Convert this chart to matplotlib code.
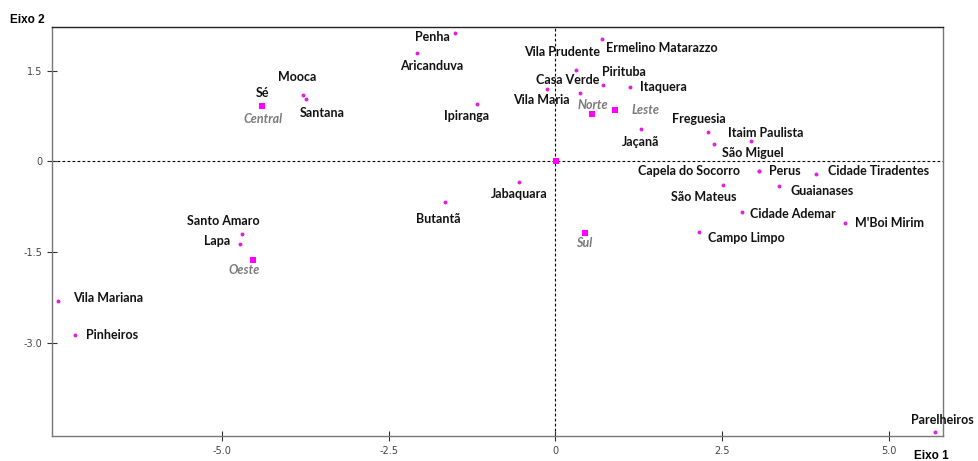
import numpy as np
import matplotlib
matplotlib.use("Agg")
from matplotlib import pyplot as plt

# district scores on the two axes
districts = ["Penha", "Aricanduva", "Ermelino Matarazzo", "Vila Prudente", "Casa Verde",
             "Vila Maria", "Pirituba", "Itaquera", "Ipiranga", "Jaçanã", "Mooca", "Santana",
             "Sé", "Freguesia", "Itaim Paulista", "São Miguel", "Capela do Socorro", "Perus",
             "Cidade Tiradentes", "São Mateus", "Guaianases", "Cidade Ademar", "M'Boi Mirim",
             "Campo Limpo", "Jabaquara", "Butantã", "Santo Amaro", "Lapa", "Vila Mariana",
             "Pinheiros", "Parelheiros"]
eixo1 = [-1.51, -2.07, 0.70, 0.31, 0.37, -0.13, 0.72, 1.12, -1.18, 1.28, -3.78, -3.74,
         -4.39, 2.29, 2.93, 2.38, 3.06, 3.06, 3.91, 2.52, 3.35, 2.80, 4.35, 2.16, -0.55,
         -1.66, -4.70, -4.72, -7.46, -7.20, 5.70]
eixo2 = [2.12, 1.80, 2.02, 1.51, 1.13, 1.20, 1.26, 1.23, 0.95, 0.54, 1.09, 1.04,
         0.91, 0.48, 0.34, 0.29, -0.16, -0.16, -0.21, -0.39, -0.41, -0.84, -1.02, -1.17,
         -0.34, -0.67, -1.20, -1.37, -2.30, -2.87, -4.47]

# region centroids (last one = overall centre, no label)
regioes = ["Central", "Norte", "Leste", "Sul", "Oeste", ""]
reg1 = [-4.39, 0.55, 0.90, 0.44, -4.53, 0.01]
reg2 = [0.91, 0.78, 0.85, -1.18, -1.63, 0.01]

xticks = [-5.0, -2.5, 0, 2.5, 5.0]
xticklabels = ["-5.0", "-2.5", "0", "2.5", "5.0"]
yticks = [1.5, 0, -1.5, -3.0]
yticklabels = ["1.5", "0", "-1.5", "-3.0"]

# label offsets in pixels (dx, dy) from each point
offs = [(-22, -4), (14, -13), (60, -9), (-14, 18), (-12, 13), (-5, -11), (21, 13), (33, 0),
        (-10, -12), (0, -13), (-6, 18), (16, -14), (0, 13), (-9, 13), (15, 8), (39, -9),
        (-70, 0), (25, 0), (62, 3), (-20, -12), (43, -5), (51, -2), (44, 0), (47, -6),
        (1, -12), (-6, -17), (-19, 13), (-23, 3), (50, 3), (37, 0), (7, 12)]
reg_offs = [(1, -13), (1, 9), (30, 0), (0, -10), (-9, -10), (0, 0)]

fig = plt.figure(figsize=(9.79, 4.61), dpi=100)
ax = fig.add_axes([52/979, 25/461, 891/979, 409/461])

ax.axhline(0, color="black", lw=0.8, ls=(0, (2.5, 2)), zorder=1)
ax.axvline(0, color="black", lw=0.8, ls=(0, (2.5, 2)), zorder=1)

ax.scatter(eixo1, eixo2, s=8, color="#e21ee2", zorder=3, linewidths=0)
ax.scatter(reg1, reg2, s=24, marker="s", color="#ff00ff", zorder=3, linewidths=0)

for name, x, y, (dx, dy) in zip(districts, eixo1, eixo2, offs):
    ax.annotate(name, (x, y), xytext=(dx, dy), textcoords="offset pixels",
                ha="center", va="center", fontsize=9, fontweight="bold",
                family="Lato", color="#111111")
for name, x, y, (dx, dy) in zip(regioes, reg1, reg2, reg_offs):
    if name:
        ax.annotate(name, (x, y), xytext=(dx, dy), textcoords="offset pixels",
                    ha="center", va="center", fontsize=9, fontstyle="italic",
                    fontweight="bold", family="Lato", color="#7a7a7a")

ax.set_xlim(-7.546, 5.813)
ax.set_ylim(-4.538, 2.222)
ax.set_xticks(xticks)
ax.set_xticklabels(xticklabels)
ax.set_yticks(yticks)
ax.set_yticklabels(yticklabels)
ax.tick_params(direction="inout", length=7, width=0.8, color="#333333",
               labelsize=7, labelcolor="#444444")

for side in ["left", "bottom", "right"]:
    ax.spines[side].set_color("#777777")
ax.spines["top"].set_color("#222222")
for sp in ax.spines.values():
    sp.set_linewidth(1.0)

fig.text(10/979, 1 - 20/461, "Eixo 2", fontsize=8.5, fontweight="bold",
         family="Liberation Sans", va="center", ha="left")
fig.text(914/979, 1 - 456/461, "Eixo 1", fontsize=8.5, fontweight="bold",
         family="Liberation Sans", va="center", ha="left")

fig.savefig("out.png", dpi=100)
